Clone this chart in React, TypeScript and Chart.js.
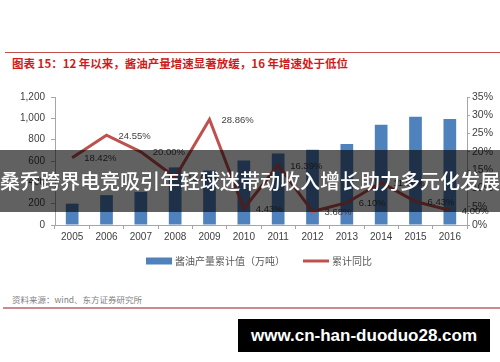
import React, { useEffect, useRef } from "react";
import { Chart, registerables } from "chart.js";

Chart.register(...registerables);

const years = ["2005", "2006", "2007", "2008", "2009", "2010", "2011", "2012", "2013", "2014", "2015", "2016"];
const outputValues = [200, 280, 310, 540, 510, 605, 670, 705, 760, 940, 1015, 993];
const growthValues = [18.42, 24.55, 20.0, 13.05, 28.86, 4.43, 16.39, 3.68, 6.1, 11.6, 6.43, 4.0];
const leftTicks = [0, 200, 400, 600, 800, 1000, 1200];
const rightTicks = [0, 5, 10, 15, 20, 25, 30, 35];

const titleText = "图表 15：12 年以来，酱油产量增速显著放缓，16 年增速处于低位";
const sourceText = "资料来源：wind、东方证券研究所";
const barLabel = "酱油产量累计值（万吨）";
const lineLabel = "累计同比";
const bannerText = "桑乔跨界电竞吸引年轻球迷带动收入增长助力多元化发展";
const watermarkText = "www.cn-han-duoduo28.com";

const BAR_COLOR = "#4f81bd";
const LINE_COLOR = "#c0504d";
const AXIS_COLOR = "#a6a6a6";
const TICK_FONT = { family: "'Liberation Sans', Arial, sans-serif", size: 10 };

const fmt = (v: number) => v.toLocaleString("en-US");

const lineLabelPlugin = {
  id: "lineLabels",
  afterDatasetsDraw(chart: any) {
    const meta = chart.getDatasetMeta(1);
    const ctx = chart.ctx;
    ctx.save();
    ctx.font = "9.5px 'Liberation Sans', Arial, sans-serif";
    ctx.fillStyle = "#404040";
    ctx.textAlign = "left";
    ctx.textBaseline = "middle";
    meta.data.forEach((pt: any, i: number) => {
      ctx.fillText(growthValues[i].toFixed(2) + "%", pt.x + 12, pt.y + 1);
    });
    ctx.restore();
  },
};

// Legend drawn from the datasets' own labels and colours
const legendPlugin = {
  id: "customLegend",
  afterDraw(chart: any) {
    const ctx = chart.ctx;
    const ds = chart.data.datasets;
    const y = chart.chartArea.bottom + 36;
    const font = "10px 'Noto Sans CJK SC', sans-serif";
    ctx.save();
    ctx.font = font;
    ctx.textBaseline = "middle";
    ctx.textAlign = "left";
    const swatch = 26;
    const gapText = 3;
    const gapItem = 18;
    const w0 = swatch + gapText + ctx.measureText(ds[0].label).width;
    const w1 = swatch + gapText + ctx.measureText(ds[1].label).width;
    const total = w0 + gapItem + w1;
    let x = 259 - total / 2;
    // bar item
    ctx.fillStyle = ds[0].backgroundColor;
    ctx.fillRect(x, y - 3.5, swatch, 7);
    ctx.fillStyle = "#595959";
    ctx.fillText(ds[0].label, x + swatch + gapText, y);
    x += w0 + gapItem;
    // line item
    ctx.strokeStyle = ds[1].borderColor;
    ctx.lineWidth = 3;
    ctx.beginPath();
    ctx.moveTo(x, y);
    ctx.lineTo(x + swatch, y);
    ctx.stroke();
    ctx.fillStyle = "#595959";
    ctx.fillText(ds[1].label, x + swatch + gapText, y);
    ctx.restore();
  },
};

function ChartBox() {
  const ref = useRef<HTMLCanvasElement | null>(null);
  useEffect(() => {
    if (!ref.current) return;
    const chart = new Chart(ref.current, {
      type: "bar",
      data: {
        labels: years,
        datasets: [
          {
            type: "bar",
            label: barLabel,
            data: outputValues,
            backgroundColor: BAR_COLOR,
            borderWidth: 0,
            yAxisID: "y",
            order: 1,
            categoryPercentage: 1,
            barPercentage: 0.37,
          } as any,
          {
            type: "line",
            label: lineLabel,
            data: growthValues,
            borderColor: LINE_COLOR,
            backgroundColor: LINE_COLOR,
            borderWidth: 3,
            pointRadius: 0,
            tension: 0,
            yAxisID: "y1",
            order: 0,
          } as any,
        ],
      },
      options: {
        animation: false,
        responsive: false,
        devicePixelRatio: 1,
        layout: { padding: { top: 10, left: 0, right: 0, bottom: 28 } },
        plugins: {
          tooltip: { enabled: false },
          legend: { display: false },
        },
        scales: {
          x: {
            grid: {
              display: true,
              drawOnChartArea: false,
              drawTicks: true,
              tickLength: 4,
              color: AXIS_COLOR,
              offset: true,
            },
            border: { color: AXIS_COLOR },
            ticks: { color: "#404040", font: TICK_FONT, padding: 2, maxRotation: 0, autoSkip: false },
            afterFit: (s: any) => {
              s.height = 24;
            },
          },
          y: {
            position: "left",
            min: 0,
            max: 1200,
            grid: { drawOnChartArea: false, tickLength: 4, color: AXIS_COLOR },
            border: { color: AXIS_COLOR },
            ticks: { color: "#404040", font: TICK_FONT, padding: 6, callback: (v: any) => fmt(Number(v)) },
            afterBuildTicks: (s: any) => {
              s.ticks = leftTicks.map((v) => ({ value: v }));
            },
            afterFit: (s: any) => {
              s.width = 55;
            },
          },
          y1: {
            position: "right",
            min: 0,
            max: 35,
            grid: { drawOnChartArea: false, tickLength: 3, color: AXIS_COLOR },
            border: { color: AXIS_COLOR },
            ticks: { color: "#404040", font: { ...TICK_FONT, size: 10.5 }, padding: 2, callback: (v: any) => v + "%" },
            afterBuildTicks: (s: any) => {
              s.ticks = rightTicks.map((v) => ({ value: v }));
            },
            afterFit: (s: any) => {
              s.width = 33;
            },
          },
        },
      } as any,
      plugins: [lineLabelPlugin, legendPlugin],
    });
    return () => chart.destroy();
  }, []);
  return (
    <canvas
      ref={ref}
      width={500}
      height={192}
      style={{ position: "absolute", left: 0, top: 85, width: 500, height: 192 }}
    />
  );
}

export default function App() {
  return (
    <div
      style={{
        position: "fixed",
        left: 0,
        top: 0,
        width: 500,
        height: 362,
        background: "#ffffff",
        overflow: "hidden",
        fontFamily: "'Noto Sans CJK SC', sans-serif",
      }}
    >
      <div style={{ position: "absolute", left: 5, top: 52, width: 495, height: 1, background: "#c0504d" }} />
      <div
        style={{
          position: "absolute",
          left: 12,
          top: 55,
          fontSize: 11.5,
          lineHeight: "16px",
          fontWeight: 700,
          color: "#d01a1a",
          whiteSpace: "nowrap",
        }}
      >
        {titleText}
      </div>
      <ChartBox />
      <div
        style={{
          position: "absolute",
          left: 12,
          top: 293,
          fontSize: 8.5,
          lineHeight: "12px",
          color: "#7f7f7f",
          whiteSpace: "nowrap",
        }}
      >
        {sourceText}
      </div>
      <div style={{ position: "absolute", left: 3, top: 307, width: 497, height: 2, background: "#cd8a8e" }} />
      <div
        style={{
          position: "absolute",
          left: 0,
          top: 150,
          width: 500,
          height: 62,
          background: "rgba(0,0,0,0.62)",
          color: "#ffffff",
          fontSize: 20,
          fontWeight: 500,
          lineHeight: "62px",
          textAlign: "center",
          whiteSpace: "nowrap",
        }}
      >
        {bannerText}
      </div>
      <div
        style={{
          position: "absolute",
          left: 238,
          top: 319,
          width: 252,
          height: 33,
          background: "#000000",
          color: "#ffffff",
          fontFamily: "'Liberation Sans', Arial, sans-serif",
          fontWeight: 700,
          fontSize: 17,
          lineHeight: "33px",
          textAlign: "center",
          whiteSpace: "nowrap",
        }}
      >
        {watermarkText}
      </div>
    </div>
  );
}
